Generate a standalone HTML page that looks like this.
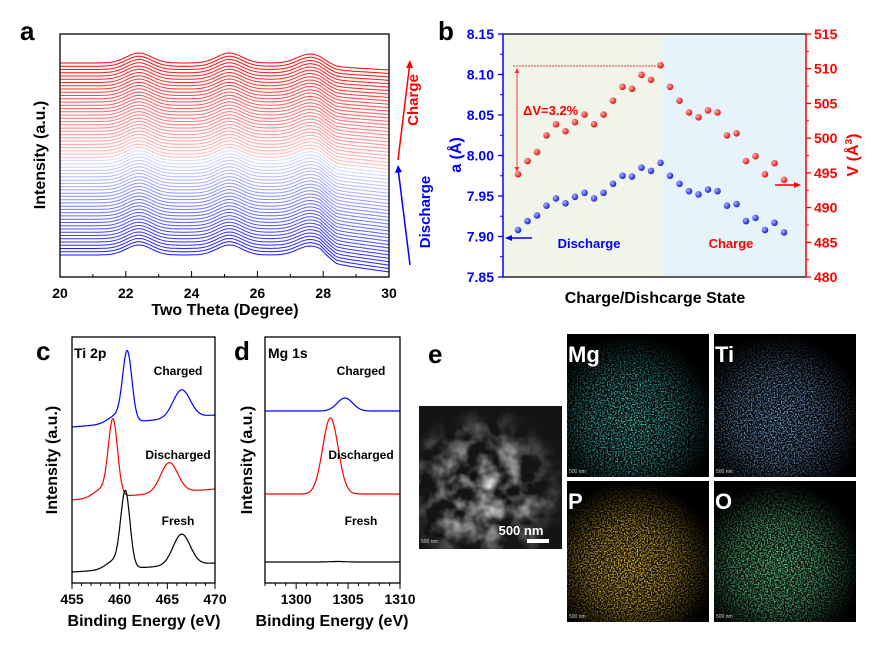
<!DOCTYPE html>
<html><head><meta charset="utf-8"><style>
html,body{margin:0;padding:0;background:#fff;}
svg{display:block;font-family:"Liberation Sans",Arial,sans-serif;font-weight:bold;}
</style></head><body>
<svg id="fig" width="886" height="652" viewBox="0 0 886 652" xmlns="http://www.w3.org/2000/svg">
<defs>
<radialGradient id="gB" cx="35%" cy="35%" r="65%"><stop offset="0" stop-color="#aab4ff"/><stop offset="1" stop-color="#1a22d8"/></radialGradient>
<radialGradient id="gR" cx="35%" cy="35%" r="65%"><stop offset="0" stop-color="#ffb0b0"/><stop offset="1" stop-color="#e01010"/></radialGradient>
<filter id="nMg"><feTurbulence type="fractalNoise" baseFrequency="0.7" numOctaves="2" seed="2"/><feColorMatrix values="0 0 0 0 0.1  0 0 0 0 0.7  0 0 0 0 0.65  0 0 0 3 -1.25"/></filter>
<filter id="nTi"><feTurbulence type="fractalNoise" baseFrequency="0.7" numOctaves="2" seed="5"/><feColorMatrix values="0 0 0 0 0.25  0 0 0 0 0.5  0 0 0 0 0.9  0 0 0 3 -1.25"/></filter>
<filter id="nP"><feTurbulence type="fractalNoise" baseFrequency="0.7" numOctaves="2" seed="7"/><feColorMatrix values="0 0 0 0 0.9  0 0 0 0 0.58  0 0 0 0 0.05  0 0 0 3 -1.15"/></filter>
<filter id="nO"><feTurbulence type="fractalNoise" baseFrequency="0.7" numOctaves="2" seed="9"/><feColorMatrix values="0 0 0 0 0.15  0 0 0 0 0.7  0 0 0 0 0.3  0 0 0 3 -1.15"/></filter>
<filter id="nS"><feTurbulence type="fractalNoise" baseFrequency="0.05" numOctaves="3" seed="3"/><feColorMatrix values="0 0 0 0 0.8  0 0 0 0 0.8  0 0 0 0 0.8  0 0 0 2.2 -0.8"/></filter>
<radialGradient id="blob" cx="45%" cy="60%" r="60%"><stop offset="0" stop-color="#fff"/><stop offset="0.5" stop-color="#bbb"/><stop offset="1" stop-color="#000"/></radialGradient>
<mask id="mBlob" maskContentUnits="objectBoundingBox"><rect x="0" y="0" width="1" height="1" fill="url(#blob)"/></mask>
</defs>

<!-- Panel a -->
<g>
<text x="20" y="40" font-size="26">a</text>
<g id="aCurves"></g>
<rect x="60" y="34" width="329" height="243" fill="none" stroke="#000" stroke-width="1.3"/>
<g id="aTicks"></g>
<text x="225" y="315" font-size="16" text-anchor="middle">Two Theta (Degree)</text>
<text transform="translate(45,155) rotate(-90)" font-size="16" text-anchor="middle">Intensity (a.u.)</text>
<line x1="398" y1="160" x2="410" y2="62" stroke="#f00" stroke-width="1.5"/>
<path d="M410,60 l-4,8 l7,0 z" fill="#f00"/>
<text transform="translate(418,100) rotate(-90)" font-size="15" fill="#f00" text-anchor="middle">Charge</text>
<line x1="410" y1="265" x2="398" y2="168" stroke="#00f" stroke-width="1.5"/>
<path d="M398,165 l-3,8 l7,-1 z" fill="#00f"/>
<text transform="translate(430,212) rotate(-90)" font-size="15" fill="#00f" text-anchor="middle">Discharge</text>
</g>

<!-- Panel b -->
<g>
<text x="438" y="40" font-size="26">b</text>
<rect x="503" y="34" width="159" height="243" fill="#f1f4e8"/>
<rect x="662" y="34" width="144" height="243" fill="#e6f3f9"/>
<line x1="503" y1="34" x2="806" y2="34" stroke="#000" stroke-width="1.3"/>
<line x1="503" y1="277" x2="806" y2="277" stroke="#000" stroke-width="1.3"/>
<line x1="503" y1="34" x2="503" y2="277" stroke="#00f" stroke-width="1.5"/>
<line x1="806" y1="34" x2="806" y2="277" stroke="#f00" stroke-width="1.5"/>
<g id="bTicks"></g>
<g id="bMarks"></g>
<line x1="513" y1="66" x2="660" y2="66" stroke="#f33" stroke-width="1" stroke-dasharray="2,1"/>
<line x1="517" y1="70" x2="517" y2="170" stroke="#f33" stroke-width="1"/>
<path d="M517,68 l-2.5,5 l5,0 z M517,172 l-2.5,-5 l5,0 z" fill="#f33"/>
<text x="523" y="115" font-size="13" fill="#f00">ΔV=3.2%</text>
<line x1="507" y1="238" x2="532" y2="238" stroke="#00f" stroke-width="1.5"/><path d="M505,238 l7,-3 l0,6 z" fill="#00f"/>
<line x1="775" y1="185" x2="798" y2="185" stroke="#f00" stroke-width="1.5"/><path d="M801,185 l-7,-3 l0,6 z" fill="#f00"/>
<text x="589" y="248" font-size="13" fill="#00f" text-anchor="middle">Discharge</text>
<text x="731" y="248" font-size="13" fill="#f00" text-anchor="middle">Charge</text>
<text x="655" y="303" font-size="16" text-anchor="middle">Charge/Dishcarge State</text>
<text transform="translate(461,155) rotate(-90)" font-size="16" fill="#00f" text-anchor="middle">a (Å)</text>
<text transform="translate(858,155) rotate(-90)" font-size="16" fill="#f00" text-anchor="middle">V (Å<tspan font-size="10" dy="-6">3</tspan><tspan dy="6">)</tspan></text>
</g>

<!-- Panel c -->
<g>
<text x="36" y="360" font-size="26">c</text>
<g id="cCurves"></g>
<rect x="72" y="337" width="143" height="246" fill="none" stroke="#000" stroke-width="1.3"/>
<text x="74" y="358" font-size="14">Ti 2p</text>
<text x="178" y="375" font-size="12" text-anchor="middle">Charged</text>
<text x="178" y="459" font-size="12" text-anchor="middle">Discharged</text>
<text x="178" y="525" font-size="12" text-anchor="middle">Fresh</text>
<g id="cTicks"></g>
<text x="144" y="626" font-size="16" text-anchor="middle">Binding Energy (eV)</text>
<text transform="translate(57,460) rotate(-90)" font-size="16" text-anchor="middle">Intensity (a.u.)</text>
</g>

<!-- Panel d -->
<g>
<text x="234" y="360" font-size="26">d</text>
<g id="dCurves"></g>
<rect x="265" y="337" width="135" height="246" fill="none" stroke="#000" stroke-width="1.3"/>
<text x="268" y="358" font-size="14">Mg 1s</text>
<text x="361" y="375" font-size="12" text-anchor="middle">Charged</text>
<text x="361" y="459" font-size="12" text-anchor="middle">Discharged</text>
<text x="361" y="525" font-size="12" text-anchor="middle">Fresh</text>
<g id="dTicks"></g>
<text x="332" y="626" font-size="16" text-anchor="middle">Binding Energy (eV)</text>
<text transform="translate(252,460) rotate(-90)" font-size="16" text-anchor="middle">Intensity (a.u.)</text>
</g>

<!-- Panel e -->
<g>
<text x="428" y="363" font-size="26">e</text>
<g>
<rect x="419" y="406" width="143" height="143" fill="#141414"/>
<rect x="419" y="406" width="143" height="143" filter="url(#nS)" mask="url(#mBlob)"/>
<text x="521" y="535" font-size="13" fill="#fff" text-anchor="middle">500 nm</text>
<rect x="527" y="539" width="22" height="4" fill="#fff"/>
<text x="421" y="543" font-size="5" font-weight="normal" fill="#ccc">500 nm</text>
</g>
<g><rect x="567" y="334" width="142" height="143" fill="#000"/><rect x="567" y="334" width="142" height="143" filter="url(#nMg)" mask="url(#mBlob)"/><text x="568" y="362" font-size="22" fill="#fff">Mg</text><text x="569" y="473" font-size="5" font-weight="normal" fill="#ccc">500 nm</text></g>
<g><rect x="714" y="334" width="142" height="143" fill="#000"/><rect x="714" y="334" width="142" height="143" filter="url(#nTi)" mask="url(#mBlob)"/><text x="715" y="362" font-size="22" fill="#fff">Ti</text><text x="716" y="473" font-size="5" font-weight="normal" fill="#ccc">500 nm</text></g>
<g><rect x="567" y="481" width="142" height="141" fill="#000"/><rect x="567" y="481" width="142" height="141" filter="url(#nP)" mask="url(#mBlob)"/><text x="568" y="509" font-size="22" fill="#fff">P</text><text x="569" y="618" font-size="5" font-weight="normal" fill="#ccc">500 nm</text></g>
<g><rect x="714" y="481" width="142" height="141" fill="#000"/><rect x="714" y="481" width="142" height="141" filter="url(#nO)" mask="url(#mBlob)"/><text x="715" y="509" font-size="22" fill="#fff">O</text><text x="716" y="618" font-size="5" font-weight="normal" fill="#ccc">500 nm</text></g>
</g>
</svg>
<script>
// ---- Panel a data ----
const aPeakCenters = [22.4, 25.15, 27.6];
const aPeakHeights = [10, 10, 9];
const aCurveCount = 60;
const aBottomOffset = 0;
const aTopOffset = 192;
// ---- Panel b data ----
const bLattice = [7.908,7.919,7.926,7.938,7.947,7.941,7.949,7.954,7.947,7.954,7.965,7.975,7.974,7.985,7.981,7.991,7.975,7.965,7.956,7.952,7.958,7.956,7.938,7.940,7.919,7.923,7.908,7.917,7.905];
const bVolume = [494.8,496.7,498.0,500.4,502.0,501.0,502.3,503.4,502.0,503.4,505.4,507.4,507.1,509.1,508.4,510.5,507.4,505.4,503.7,503.0,504.0,503.7,500.4,500.7,496.7,497.4,494.8,496.4,494.0];
const bLeftTicks = [7.85,7.90,7.95,8.00,8.05,8.10,8.15];
const bRightTicks = [480,485,490,495,500,505,510,515];
// ---- Panel c data (intensity in plot units) ----
const cNames = ["Charged","Discharged","Fresh"];
const cBase = [156, 83, 11];
const cSlope = [0.8, 0.73, 0.6];
const cCenters = [[460.8,466.5],[459.3,465.2],[460.6,466.5]];
const cHeights = [[68,28],[74,30],[74,31]];
const cTicks = [455,460,465,470];
// ---- Panel d data ----
const dBase = [172, 89, 21];
const dCenters = [1304.7, 1303.3, 1304];
const dHeights = [13, 76, 0.5];
const dTicks = [1300,1305,1310];

const NS="http://www.w3.org/2000/svg";
function mk(tag,attrs,parent){const e=document.createElementNS(NS,tag);for(const k in attrs)e.setAttribute(k,attrs[k]);parent.appendChild(e);return e;}
function gauss(x,c,w){return Math.exp(-((x-c)*(x-c))/(2*w*w));}

// Panel a
(function(){
 const g=document.getElementById('aCurves');
 const X=v=>60+(v-20)/10*329, Y=v=>255-v;
 for(let k=0;k<aCurveCount;k++){
  const off=aBottomOffset+(aTopOffset-aBottomOffset)*k/(aCurveCount-1);
  const drop=17-10*k/(aCurveCount-1);
  let d="";
  for(let t=20;t<=30.001;t+=0.05){
   let v=off;
   for(let p=0;p<aPeakCenters.length;p++) v+=aPeakHeights[p]*gauss(t,aPeakCenters[p],0.38);
   if(t>27.9) v-=drop*Math.min(1,(t-27.9)/0.5)*0.55 + (t>28.4? drop*0.45*(t-28.4)/1.6:0);
   d+=(d?"L":"M")+X(t).toFixed(1)+","+Y(v).toFixed(1);
  }
  let col;
  const half=aCurveCount/2;
  if(k<half){const f=k/(half-1);col=`rgb(${Math.round(20+190*f)},${Math.round(20+200*f)},255)`;}
  else{const f=(k-half)/(half-1);col=`rgb(255,${Math.round(190-190*f)},${Math.round(190-190*f)})`;}
  const p=mk('path',{d:d,fill:'none',stroke:col,'stroke-width':1},g);
  
  
 }
 const t=document.getElementById('aTicks');
 for(let v=20;v<=30;v++){
  mk('line',{x1:X(v),y1:277,x2:X(v),y2:v%2?274:271,stroke:'#000'},t);
  if(v%2===0){const tx=mk('text',{x:X(v),y:298,'font-size':14,'text-anchor':'middle'},t);tx.textContent=v;}
 }
})();

// Panel b
(function(){
 const X=i=>518+i*9.5, YA=v=>34+(8.15-v)/0.30*243, YV=v=>34+(515-v)/35*243;
 const t=document.getElementById('bTicks');
 bLeftTicks.forEach((v,i)=>{
  mk('line',{x1:503,y1:YA(v),x2:498,y2:YA(v),stroke:'#00f','stroke-width':1.3},t);
  if(i<bLeftTicks.length-1) mk('line',{x1:503,y1:YA(v+0.025),x2:500,y2:YA(v+0.025),stroke:'#00f'},t);
  const tx=mk('text',{x:494,y:YA(v)+5,'font-size':14,fill:'#00f','text-anchor':'end'},t);tx.textContent=v.toFixed(2);
 });
 bRightTicks.forEach((v,i)=>{
  mk('line',{x1:806,y1:YV(v),x2:811,y2:YV(v),stroke:'#f00','stroke-width':1.3},t);
  if(i<bRightTicks.length-1) mk('line',{x1:806,y1:YV(v+2.5),x2:809,y2:YV(v+2.5),stroke:'#f00'},t);
  const tx=mk('text',{x:814,y:YV(v)+5,'font-size':14,fill:'#f00'},t);tx.textContent=v;
 });
 const g=document.getElementById('bMarks');
 bLattice.forEach((v,i)=>{const c=mk('circle',{cx:X(i),cy:YA(v),r:3.3,fill:'url(#gB)'},g);
  });
 bVolume.forEach((v,i)=>{const c=mk('circle',{cx:X(i),cy:YV(v),r:3.3,fill:'url(#gR)'},g);
  });
})();

// Panel c
(function(){
 const X=v=>72+(v-455)/15*143, Y=v=>583-v;
 const g=document.getElementById('cCurves');
 const cols=['#00f','#f00','#000'];
 cNames.forEach((n,k)=>{
  let d="";
  for(let e=455;e<=470.001;e+=0.05){
   const h1=cHeights[k][0], c1=cCenters[k][0];
   let v=cBase[k]+cSlope[k]*(e-455)+h1*gauss(e,c1,0.48)+h1*0.12*gauss(e,c1-1.1,0.9)+cHeights[k][1]*gauss(e,cCenters[k][1],0.9);
   d+=(d?"L":"M")+X(e).toFixed(1)+","+Y(v).toFixed(1);
  }
  const p=mk('path',{d:d,fill:'none',stroke:cols[k],'stroke-width':1.2},g);
  
  
 });
 const t=document.getElementById('cTicks');
 for(let v=455;v<=470;v++){
  mk('line',{x1:X(v),y1:583,x2:X(v),y2:v%5?586:589,stroke:'#000'},t);
 }
 cTicks.forEach(v=>{const tx=mk('text',{x:X(v),y:604,'font-size':14,'text-anchor':'middle'},t);tx.textContent=v;});
})();

// Panel d
(function(){
 const X=v=>265+(v-1297)/13*135, Y=v=>583-v;
 const g=document.getElementById('dCurves');
 const cols=['#00f','#f00','#000'];
 cNames.forEach((n,k)=>{
  let d="";
  for(let e=1297;e<=1310.001;e+=0.05){
   let v=dBase[k]+dHeights[k]*gauss(e,dCenters[k],0.75);
   d+=(d?"L":"M")+X(e).toFixed(1)+","+Y(v).toFixed(1);
  }
  const p=mk('path',{d:d,fill:'none',stroke:cols[k],'stroke-width':1.2},g);
  
  
 });
 const t=document.getElementById('dTicks');
 for(let v=1297;v<=1310;v++){
  mk('line',{x1:X(v),y1:583,x2:X(v),y2:v%5?586:589,stroke:'#000'},t);
 }
 dTicks.forEach(v=>{const tx=mk('text',{x:X(v),y:604,'font-size':14,'text-anchor':'middle'},t);tx.textContent=v;});
})();
</script>
</body></html>
